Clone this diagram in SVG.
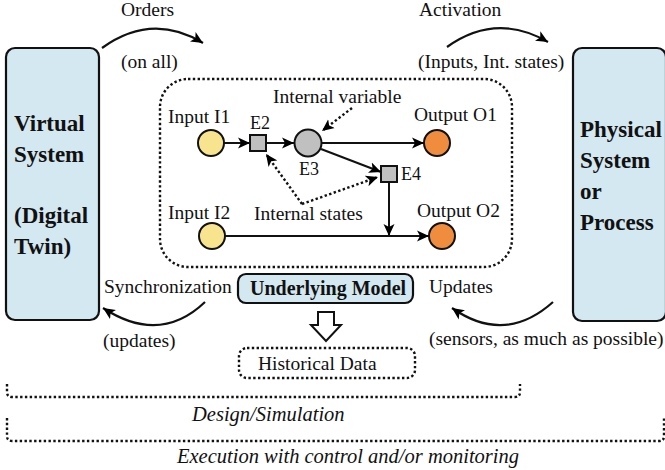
<svg xmlns="http://www.w3.org/2000/svg" width="665" height="470" viewBox="0 0 665 470" font-family="Liberation Serif, DejaVu Serif, serif">
<defs>
<marker id="ah" markerUnits="userSpaceOnUse" markerWidth="14" markerHeight="12" refX="12" refY="6" orient="auto">
<path d="M0,0.5 L12,6 L0,11.5 L3,6 Z" fill="#000"/>
</marker>
</defs>
<style>
text{font-family:'Liberation Serif','Tinos','Times New Roman','DejaVu Serif',serif;fill:#111;}
.t{font-size:19.5px;}
.e{font-size:18px;}
.b{font-size:23px;font-weight:bold;}
.bm{font-size:20px;font-weight:bold;}
.i{font-size:20.5px;font-style:italic;}
.sys{fill:#d4e8f1;stroke:#111;stroke-width:2.2;}
.dot{fill:none;stroke:#111;stroke-width:2.4;stroke-dasharray:2.4 2.4;}
.ln{fill:none;stroke:#111;stroke-width:2;}
.cv{fill:none;stroke:#111;stroke-width:2.2;}
.in{fill:#f8e48e;stroke:#111;stroke-width:2;}
.out{fill:#ef8c3e;stroke:#111;stroke-width:2;}
.gr{fill:#c0c0c0;stroke:#111;stroke-width:2;}
</style>

<g id="virtual-system">
<rect class="sys" x="6" y="48" width="93" height="272" rx="9"/>
<text class="b" x="14" y="131">Virtual</text>
<text class="b" x="14" y="162">System</text>
<text class="b" x="14" y="223">(Digital</text>
<text class="b" x="14" y="254">Twin)</text>
</g>

<g id="physical-system">
<rect class="sys" x="573" y="48" width="93" height="273" rx="9"/>
<text class="b" x="580" y="137">Physical</text>
<text class="b" x="580" y="168">System</text>
<text class="b" x="580" y="199">or</text>
<text class="b" x="580" y="230">Process</text>
</g>

<g id="model-area">
<rect class="dot" x="160" y="79" width="352" height="188" rx="28"/>
</g>

<g id="input-i1">
<circle class="in" cx="211" cy="143" r="13"/>
<text class="t" x="168" y="123">Input I1</text>
</g>
<g id="e2">
<rect class="gr" x="250" y="135" width="16" height="16"/>
<text class="e" x="250" y="129">E2</text>
</g>
<g id="e3">
<circle class="gr" cx="308" cy="143" r="13.5"/>
<text class="e" x="299" y="175">E3</text>
</g>
<g id="output-o1">
<circle class="out" cx="437" cy="143" r="13"/>
<text class="t" x="414" y="121">Output O1</text>
</g>
<g id="e4">
<rect class="gr" x="381" y="166" width="16" height="16"/>
<text class="e" x="401" y="180">E4</text>
</g>
<g id="input-i2">
<circle class="in" cx="212" cy="236" r="13"/>
<text class="t" x="168" y="219">Input I2</text>
</g>
<g id="output-o2">
<circle class="out" cx="442" cy="236" r="13"/>
<text class="t" x="417" y="217">Output O2</text>
</g>
<g id="internal-variable">
<text class="t" x="273" y="103">Internal variable</text>
</g>
<g id="internal-states">
<text class="t" x="254" y="220">Internal states</text>
</g>

<g id="underlying-model">
<rect x="238" y="274" width="175" height="29" rx="8" fill="#d4e8f1" stroke="#111" stroke-width="2.2"/>
<text class="bm" x="250" y="295">Underlying Model</text>
</g>

<g id="historical-data">
<rect class="dot" x="239" y="348" width="176" height="30" rx="8"/>
<text class="t" x="258" y="370">Historical Data</text>
</g>

<g id="labels">
<text class="t" x="121" y="16">Orders</text>
<text class="t" x="121" y="68">(on all)</text>
<text class="t" x="419" y="16">Activation</text>
<text class="t" x="418" y="68">(Inputs, Int. states)</text>
<text class="t" x="104" y="293">Synchronization</text>
<text class="t" x="103" y="347">(updates)</text>
<text class="t" x="429" y="293">Updates</text>
<text class="t" x="429" y="345">(sensors, as much as possible)</text>
<text class="i" x="192" y="421">Design/Simulation</text>
<text class="i" x="177" y="463">Execution with control and/or monitoring</text>
</g>

<g id="connectors">
<path class="ln" d="M224,143 L250,143" marker-end="url(#ah)"/>
<path class="ln" d="M266,143 L294,143" marker-end="url(#ah)"/>
<path class="ln" d="M321.5,143 L424,143" marker-end="url(#ah)"/>
<path class="ln" d="M321,149 L381,172" marker-end="url(#ah)"/>
<path class="ln" d="M389,182 L389,236" marker-end="url(#ah)"/>
<path class="ln" d="M225,236 L429,236" marker-end="url(#ah)"/>
<path class="dot" d="M352,108 L322,131" marker-end="url(#ah)"/>
<path class="dot" d="M302,204 L266,154" marker-end="url(#ah)"/>
<path class="dot" d="M302,204 L378,177" marker-end="url(#ah)"/>
<path class="cv" d="M102,48 Q152,12 203,43" marker-end="url(#ah)"/>
<path class="cv" d="M447,47 Q496,12 548,42" marker-end="url(#ah)"/>
<path class="cv" d="M205,302 Q160,345 103,308" marker-end="url(#ah)"/>
<path class="cv" d="M553,302 Q505,345 452,308" marker-end="url(#ah)"/>
<path d="M318,312 L334,312 L334,325 L341,325 L326,341 L311,325 L318,325 Z" fill="#fff" stroke="#111" stroke-width="2" stroke-linejoin="miter"/>
<path class="dot" d="M7,384 L7,392 Q7,397 12,397 L515,397 Q520,397 520,392 L520,384"/>
<path class="dot" d="M7,418 L7,436 Q7,441 12,441 L659,441 Q664,441 664,436 L664,418"/>
</g>
</svg>
